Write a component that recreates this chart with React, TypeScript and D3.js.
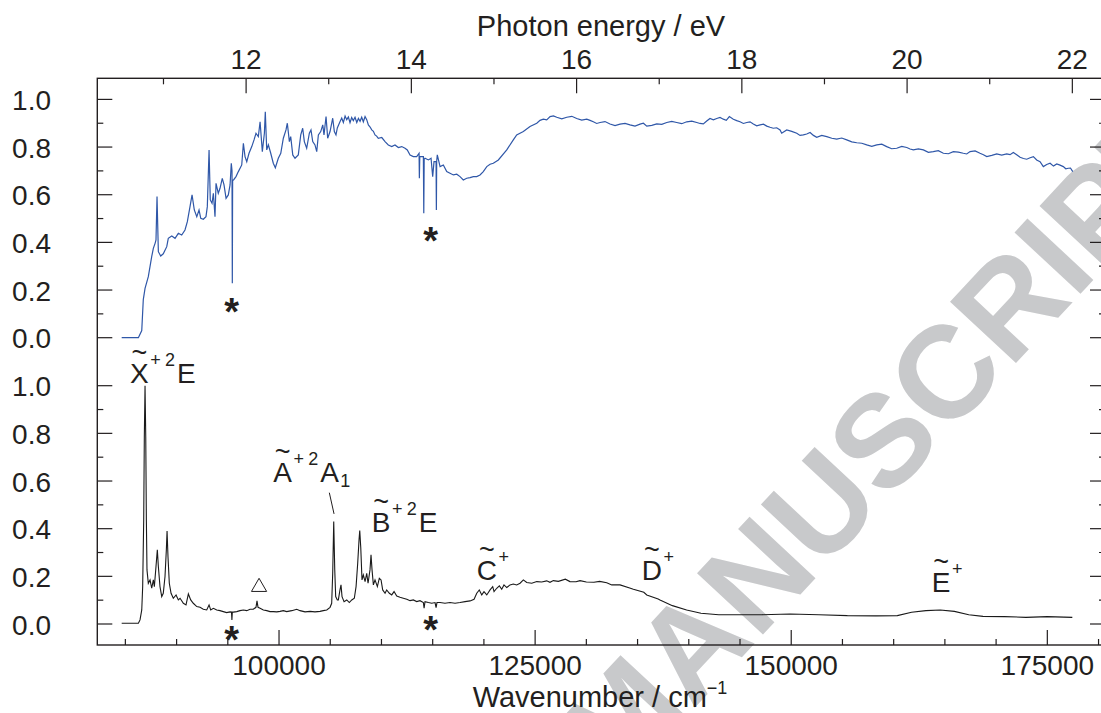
import React from 'react';
import * as d3 from 'd3';

// wavenumber (cm-1) vs normalised signal
const topTrace: [number, number][] = [
  [84640, 0], [86270, 0], [86600, 0.03], [86750, 0.16], [86920, 0.207], [87240, 0.256], [87570, 0.34],
  [87730, 0.375], [87900, 0.396], [87990, 0.41], [88090, 0.592], [88220, 0.361], [88450, 0.343], [88700, 0.352],
  [89040, 0.382], [89190, 0.417], [89530, 0.427], [89850, 0.417], [90170, 0.438], [90500, 0.431], [90820, 0.452],
  [91050, 0.487], [91310, 0.55], [91510, 0.599], [91730, 0.536], [91970, 0.508], [92190, 0.536], [92360, 0.501],
  [92610, 0.497], [92870, 0.508], [93000, 0.55], [93170, 0.788], [93290, 0.578], [93460, 0.564], [93590, 0.606],
  [93750, 0.508], [93850, 0.648], [94070, 0.606], [94240, 0.627], [94460, 0.669], [94630, 0.641], [94830, 0.585],
  [95050, 0.599], [95220, 0.641], [95340, 0.732], [95410, 0.7], [95440, 0.228], [95470, 0.66], [95560, 0.662],
  [95800, 0.676], [96030, 0.697], [96360, 0.725], [96520, 0.816], [96680, 0.76], [96850, 0.739], [97070, 0.774],
  [97340, 0.802], [97560, 0.83], [97750, 0.858], [97980, 0.844], [98150, 0.906], [98370, 0.781], [98570, 0.858],
  [98660, 0.948], [98800, 0.788], [98960, 0.809], [99190, 0.774], [99440, 0.732], [99640, 0.713], [99930, 0.753],
  [100170, 0.774], [100420, 0.837], [100680, 0.872], [100810, 0.9], [101010, 0.823], [101140, 0.844], [101340, 0.767],
  [101560, 0.753], [101880, 0.767], [102120, 0.851], [102310, 0.879], [102470, 0.823], [102700, 0.795], [102960, 0.858],
  [103120, 0.872], [103290, 0.823], [103510, 0.809], [103680, 0.781], [103840, 0.851], [104070, 0.865], [104270, 0.893],
  [104390, 0.851], [104590, 0.928], [104750, 0.837], [104980, 0.865], [105240, 0.921], [105400, 0.865], [105560, 0.851],
  [105690, 0.88], [105950, 0.906], [106120, 0.922], [106280, 0.903], [106450, 0.93], [106610, 0.915], [106770, 0.926],
  [106930, 0.902], [107090, 0.924], [107250, 0.911], [107420, 0.925], [107590, 0.903], [107750, 0.92], [107910, 0.908],
  [108070, 0.925], [108230, 0.906], [108400, 0.928], [108560, 0.915], [108720, 0.893], [108890, 0.884], [109050, 0.872],
  [109210, 0.866], [109370, 0.851], [109530, 0.846], [109690, 0.837], [110030, 0.84], [110350, 0.823], [110670, 0.809],
  [111000, 0.802], [111320, 0.809], [111650, 0.798], [111980, 0.802], [112300, 0.795], [112520, 0.788], [112790, 0.767],
  [113110, 0.76], [113440, 0.76], [113670, 0.774], [113700, 0.669], [113740, 0.76], [114090, 0.76], [114130, 0.522],
  [114170, 0.75], [114250, 0.753], [114580, 0.746], [114840, 0.753], [115000, 0.676], [115130, 0.739], [115330, 0.74],
  [115360, 0.536], [115390, 0.74], [115450, 0.767], [115720, 0.718], [116040, 0.725], [116370, 0.697], [116690, 0.69],
  [117020, 0.683], [117350, 0.686], [117670, 0.676], [117990, 0.662], [118320, 0.669], [118650, 0.672], [118970, 0.676],
  [119300, 0.676], [119620, 0.683], [119940, 0.697], [120280, 0.718], [120600, 0.728], [120920, 0.732], [121410, 0.746],
  [122230, 0.788], [122870, 0.83], [123200, 0.851], [123850, 0.865], [124500, 0.886], [125160, 0.9], [125480, 0.912],
  [125800, 0.917], [126130, 0.914], [126460, 0.928], [126790, 0.931], [127110, 0.925], [127600, 0.918], [128090, 0.925],
  [128580, 0.929], [129060, 0.92], [129550, 0.913], [130040, 0.917], [130360, 0.912], [130680, 0.906], [131010, 0.899],
  [131340, 0.903], [131820, 0.907], [132310, 0.897], [132800, 0.89], [133290, 0.896], [133780, 0.899], [134260, 0.893],
  [134750, 0.888], [135240, 0.896], [135570, 0.9], [135900, 0.888], [136390, 0.891], [136870, 0.897], [137360, 0.895],
  [137850, 0.903], [138340, 0.908], [138820, 0.903], [139310, 0.898], [139800, 0.906], [140290, 0.909], [140780, 0.903],
  [141100, 0.899], [141420, 0.897], [141750, 0.909], [142070, 0.92], [142400, 0.914], [142730, 0.92], [143050, 0.924],
  [143370, 0.917], [143660, 0.912], [143960, 0.928], [144350, 0.917], [144680, 0.911], [145000, 0.906], [145330, 0.899],
  [145660, 0.903], [145980, 0.906], [146300, 0.897], [146630, 0.889], [146960, 0.893], [147290, 0.896], [147610, 0.888],
  [147930, 0.883], [148250, 0.879], [148580, 0.881], [148910, 0.872], [149070, 0.858], [149560, 0.872], [150050, 0.866],
  [150540, 0.858], [150860, 0.849], [151180, 0.851], [151510, 0.855], [151840, 0.861], [152170, 0.849], [152490, 0.841],
  [152980, 0.849], [153470, 0.844], [153960, 0.837], [154440, 0.833], [154930, 0.838], [155420, 0.83], [155910, 0.822],
  [156400, 0.818], [156890, 0.816], [157370, 0.809], [157860, 0.803], [158350, 0.809], [158840, 0.812], [159320, 0.802],
  [159810, 0.793], [160300, 0.795], [160790, 0.803], [161280, 0.798], [161600, 0.792], [161920, 0.788], [162410, 0.792],
  [162900, 0.788], [163390, 0.778], [163870, 0.781], [164360, 0.785], [164850, 0.774], [165340, 0.772], [165830, 0.781],
  [166310, 0.779], [166800, 0.774], [167130, 0.771], [167460, 0.781], [167950, 0.784], [168430, 0.774], [168760, 0.768],
  [169090, 0.76], [169580, 0.765], [170060, 0.771], [170550, 0.766], [171040, 0.771], [171360, 0.768], [171680, 0.777],
  [172010, 0.768], [172340, 0.757], [172670, 0.752], [172990, 0.749], [173320, 0.755], [173640, 0.76], [173960, 0.746],
  [174290, 0.739], [174610, 0.718], [174940, 0.727], [175270, 0.732], [175600, 0.72], [175920, 0.729], [176240, 0.724],
  [176560, 0.718], [176800, 0.709], [177050, 0.711], [177260, 0.712], [177480, 0.697],
];

const bottomTrace: [number, number][] = [
  [84640, 0.003], [86270, 0.003], [86430, 0.017], [86600, 0.059], [86690, 0.157], [86790, 0.436], [86850, 0.786],
  [86920, 1.0], [86990, 0.786], [87050, 0.436], [87110, 0.227], [87240, 0.171], [87410, 0.185], [87570, 0.15],
  [87730, 0.185], [87830, 0.157], [87990, 0.241], [88120, 0.311], [88220, 0.241], [88380, 0.157], [88550, 0.115],
  [88700, 0.129], [88870, 0.199], [89000, 0.311], [89070, 0.39], [89160, 0.283], [89290, 0.171], [89460, 0.129],
  [89680, 0.108], [89950, 0.122], [90170, 0.101], [90340, 0.108], [90660, 0.087], [90920, 0.08], [91150, 0.126],
  [91380, 0.101], [91630, 0.087], [91970, 0.073], [92290, 0.07], [92610, 0.062], [92940, 0.059], [93170, 0.08],
  [93330, 0.059], [93590, 0.066], [93920, 0.059], [94240, 0.056], [94560, 0.052], [94890, 0.048], [95220, 0.051],
  [95360, 0.05], [95400, 0.017], [95440, 0.05], [95540, 0.05], [95870, 0.052], [96190, 0.056], [96520, 0.059],
  [96850, 0.056], [97170, 0.062], [97490, 0.062], [97750, 0.07], [97850, 0.097], [97950, 0.07], [98150, 0.066],
  [98470, 0.059], [98800, 0.056], [99120, 0.052], [99440, 0.052], [99780, 0.051], [100100, 0.053], [100420, 0.056],
  [100750, 0.052], [101240, 0.056], [101730, 0.062], [102050, 0.056], [102540, 0.051], [103030, 0.053], [103510, 0.051],
  [104000, 0.053], [104320, 0.056], [104660, 0.059], [104980, 0.07], [105140, 0.087], [105240, 0.213], [105340, 0.43],
  [105440, 0.227], [105530, 0.115], [105690, 0.101], [105790, 0.101], [105950, 0.143], [106050, 0.164], [106150, 0.115],
  [106350, 0.094], [106610, 0.101], [106860, 0.09], [107100, 0.101], [107350, 0.108], [107520, 0.157], [107680, 0.255],
  [107810, 0.353], [107880, 0.392], [107980, 0.32], [108100, 0.185], [108230, 0.206], [108400, 0.178], [108560, 0.213],
  [108690, 0.171], [108880, 0.227], [108980, 0.29], [109080, 0.227], [109210, 0.164], [109370, 0.185], [109600, 0.157],
  [109790, 0.192], [109960, 0.185], [110120, 0.143], [110350, 0.129], [110510, 0.143], [110770, 0.129], [111000, 0.122],
  [111230, 0.136], [111490, 0.117], [111810, 0.112], [112130, 0.108], [112470, 0.104], [112790, 0.098], [113110, 0.101],
  [113440, 0.094], [113760, 0.098], [114090, 0.09], [114160, 0.066], [114250, 0.094], [114580, 0.09], [114910, 0.087],
  [115230, 0.09], [115330, 0.069], [115420, 0.09], [115720, 0.09], [116200, 0.087], [116690, 0.09], [117180, 0.087],
  [117670, 0.09], [118160, 0.094], [118650, 0.097], [119040, 0.104], [119300, 0.129], [119550, 0.143], [119790, 0.122],
  [120010, 0.136], [120280, 0.122], [120600, 0.143], [120860, 0.157], [120990, 0.136], [121250, 0.15], [121510, 0.16],
  [121740, 0.146], [121960, 0.164], [122230, 0.153], [122550, 0.164], [122870, 0.168], [123200, 0.164], [123530, 0.171],
  [123850, 0.185], [124180, 0.174], [124670, 0.171], [125160, 0.178], [125640, 0.176], [126130, 0.181], [126450, 0.175],
  [126780, 0.182], [127270, 0.179], [127950, 0.188], [128400, 0.178], [128990, 0.177], [129380, 0.182], [130000, 0.176],
  [130740, 0.175], [131300, 0.179], [131990, 0.173], [132480, 0.164], [133290, 0.164], [134230, 0.151], [134590, 0.146],
  [135610, 0.133], [135900, 0.122], [137010, 0.105], [137190, 0.101], [138400, 0.077], [139790, 0.059], [141190, 0.045],
  [142930, 0.039], [145020, 0.039], [147120, 0.039], [149900, 0.042], [152700, 0.039], [155480, 0.035], [158270, 0.034],
  [160360, 0.035], [161750, 0.049], [163150, 0.056], [164550, 0.059], [165930, 0.053], [167330, 0.039], [168720, 0.032],
  [170810, 0.031], [172910, 0.028], [175000, 0.031], [177440, 0.028],
];

const wnMajor = [100000, 125000, 150000, 175000];
const wnMinor = [85000, 90000, 95000, 105000, 110000, 115000, 120000, 130000, 135000, 140000, 145000, 155000, 160000, 165000, 170000, 180000];
const evMajor = [12, 14, 16, 18, 20, 22];
const evMinor = [11, 13, 15, 17, 19, 21];
const yMajor = [0, 0.2, 0.4, 0.6, 0.8, 1.0];
const yMinor = [0.1, 0.3, 0.5, 0.7, 0.9];

// band labels in the lower panel: position of main letter (wavenumber, signal at baseline)
const bandLabels = [
  { letter: 'X', term: 'E', sub: '', wn: 85455, val: 1.011 },
  { letter: 'A', term: 'A', sub: '1', wn: 99440, val: 0.596 },
  { letter: 'B', term: 'E', sub: '', wn: 109050, val: 0.387 },
  { letter: 'C', term: '', sub: '', wn: 119300, val: 0.185 },
  { letter: 'D', term: '', sub: '', wn: 135410, val: 0.185 },
  { letter: 'E', term: '', sub: '', wn: 163720, val: 0.136 },
];
const artefactMarks = [
  { panel: 'top', wn: 95380, val: 0.14 },
  { panel: 'top', wn: 114810, val: 0.44 },
  { panel: 'bottom', wn: 95380, val: -0.032 },
  { panel: 'bottom', wn: 114810, val: 0.008 },
];
const triangleMark = { wn: 98050, val: 0.155 };
const leaderA = [[104910, 0.551], [105370, 0.462]];

const EV = 8065.54;
const W = 1101;
const H = 713;
const ink = '#231f20';
const font = '"Liberation Sans", Arial, Helvetica, sans-serif';

const x = d3.scaleLinear().domain([82260, 180630]).range([97.3, 1105]);
const xE = d3.scaleLinear().domain([82260 / EV, 180630 / EV]).range([97.3, 1105]);
const yTop = d3.scaleLinear().domain([0, 1]).range([337.7, 99.4]);
const yBot = d3.scaleLinear().domain([0, 1]).range([624, 385.7]);

const lineFor = (ys: d3.ScaleLinear<number, number>) =>
  d3.line<[number, number]>().x(d => x(d[0])).y(d => ys(d[1]));

const letterW: Record<string, number> = { X: 18.7, A: 18.7, B: 18.7, C: 20.2, D: 20.2, E: 18.7 };

const BandLabel = ({ l }: { l: typeof bandLabels[0] }) => {
  const x0 = x(l.wn);
  const b = yBot(l.val);
  const w = letterW[l.letter];
  return (
    <g fill={ink} fontFamily={font}>
      <text x={x0 + w / 2} y={b - 21} fontSize={27} textAnchor="middle">~</text>
      <text x={x0} y={b} fontSize={28}>{l.letter}</text>
      <text x={x0 + w + 1.5} y={b - 17} fontSize={18}>+</text>
      {l.term && (
        <>
          <text x={x0 + 35} y={b - 17} fontSize={18}>2</text>
          <text x={x0 + 47} y={b} fontSize={28}>{l.term}</text>
        </>
      )}
      {l.sub && <text x={x0 + 67} y={b + 5} fontSize={18}>{l.sub}</text>}
    </g>
  );
};

const App: React.FC = () => {
  const left = 97.3, right = 1105, top = 78.3, bottom = 645;
  const panels = [yTop, yBot];
  const tri = d3.symbol(d3.symbolTriangle, 100)() || '';

  return (
    <svg width={W} height={H} viewBox={`0 0 ${W} ${H}`}
      style={{ position: 'absolute', left: 0, top: 0, background: '#fff' }}>
      <rect width={W} height={H} fill="#fff" />

      {/* watermark */}
      <text transform="translate(618,790) rotate(-47)" fontFamily={font} fontWeight="bold"
        fontSize={131} fill="#c8c9cb">MANUSCRIPT</text>

      {/* traces */}
      <path d={lineFor(yTop)(topTrace) || ''} fill="none" stroke="#2f57a8" strokeWidth={1.2} />
      <path d={lineFor(yBot)(bottomTrace) || ''} fill="none" stroke="#1a1a1a" strokeWidth={1.1} />

      {/* frame */}
      <rect x={left} y={top} width={right - left} height={bottom - top} fill="none" stroke={ink} strokeWidth={1.4} />

      {/* y ticks, both panels, left and right */}
      {panels.map((ys, i) => (
        <g key={i} stroke={ink} strokeWidth={1.2}>
          {yMajor.map(v => (
            <g key={v}>
              <line x1={left} x2={left + 15} y1={ys(v)} y2={ys(v)} />
              <line x1={right} x2={right - 15} y1={ys(v)} y2={ys(v)} />
            </g>
          ))}
          {yMinor.map(v => (
            <g key={v}>
              <line x1={left} x2={left + 6} y1={ys(v)} y2={ys(v)} />
              <line x1={right} x2={right - 6} y1={ys(v)} y2={ys(v)} />
            </g>
          ))}
        </g>
      ))}
      {panels.map((ys, i) => (
        <g key={'l' + i} fill={ink} fontFamily={font} fontSize={28} textAnchor="end">
          {yMajor.map(v => (
            <text key={v} x={51} y={ys(v) + 10.5}>{v.toFixed(1)}</text>
          ))}
        </g>
      ))}

      {/* bottom axis */}
      <g stroke={ink} strokeWidth={1.2}>
        {wnMajor.map(v => <line key={v} x1={x(v)} x2={x(v)} y1={bottom} y2={bottom - 15} />)}
        {wnMinor.map(v => <line key={v} x1={x(v)} x2={x(v)} y1={bottom} y2={bottom - 6} />)}
      </g>
      <g fill={ink} fontFamily={font} fontSize={28} textAnchor="middle">
        {wnMajor.map(v => <text key={v} x={x(v)} y={675}>{v}</text>)}
      </g>
      <text x={600} y={707} fill={ink} fontFamily={font} fontSize={29} textAnchor="middle">
        Wavenumber / cm<tspan fontSize={18} dy={-13}>−1</tspan>
      </text>

      {/* top axis: photon energy */}
      <g stroke={ink} strokeWidth={1.2}>
        {evMajor.map(v => <line key={v} x1={xE(v)} x2={xE(v)} y1={top} y2={top + 15} />)}
        {evMinor.map(v => <line key={v} x1={xE(v)} x2={xE(v)} y1={top} y2={top + 6} />)}
      </g>
      <g fill={ink} fontFamily={font} fontSize={28} textAnchor="middle">
        {evMajor.map(v => <text key={v} x={xE(v)} y={69}>{v}</text>)}
      </g>
      <text x={601} y={36} fill={ink} fontFamily={font} fontSize={29} textAnchor="middle">
        Photon energy / eV
      </text>

      {/* annotations */}
      {bandLabels.map(l => <BandLabel key={l.letter + l.wn} l={l} />)}
      <line x1={x(leaderA[0][0])} y1={yBot(leaderA[0][1])} x2={x(leaderA[1][0])} y2={yBot(leaderA[1][1])}
        stroke={ink} strokeWidth={1} />
      {artefactMarks.map((m, i) => {
        const ys = m.panel === 'top' ? yTop : yBot;
        return (
          <text key={i} x={x(m.wn)} y={ys(m.val) + 21} fill={ink} fontFamily={font} fontWeight="bold"
            fontSize={38} textAnchor="middle">*</text>
        );
      })}
      <path d={tri} transform={`translate(${x(triangleMark.wn)},${yBot(triangleMark.val)})`}
        fill="none" stroke={ink} strokeWidth={1} />
    </svg>
  );
};

export default App;
